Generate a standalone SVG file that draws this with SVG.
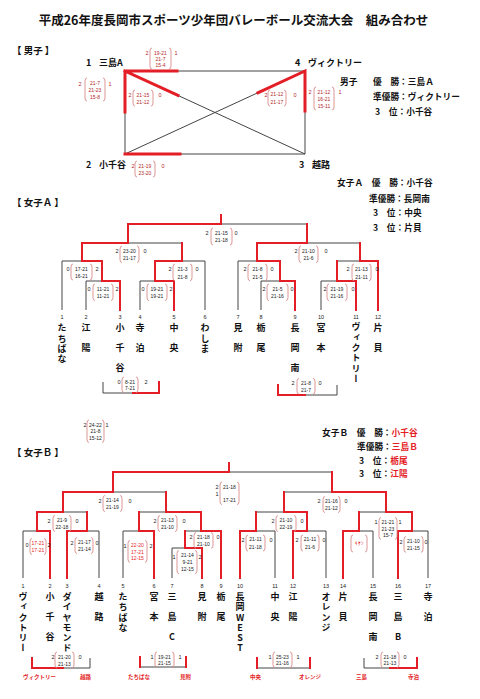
<svg xmlns="http://www.w3.org/2000/svg" width="480" height="699" viewBox="0 0 480 699">
<style>
.bg{fill:#fff}
.bk{stroke:#444;stroke-width:1;fill:none}
.rd{stroke:#e41e26;stroke-width:2;fill:none;stroke-linecap:square}
.rdm{stroke:#e41e26;stroke-width:3;fill:none;stroke-linecap:square}
.par{stroke:#d98a8a;stroke-width:0.9;fill:none}
.s{font-family:"Liberation Sans",Arial,sans-serif;font-size:5px;fill:#222;text-anchor:middle}
.sn{font-family:"Liberation Sans",Arial,sans-serif;font-size:5.5px;fill:#222;text-anchor:middle}
.mr .s,.mr .sn{fill:#b42828}
.rt .s{fill:#e41e26}
.jp{font-family:"Noto Sans CJK JP",sans-serif;font-weight:bold;fill:#111}
.t{font-size:12.5px}
.h{font-size:9.5px}
.nm{font-size:9px}
.res{font-size:8.7px}
.red{fill:#e41e26}
.num{font-family:"Liberation Sans",Arial,sans-serif;font-size:5.5px;fill:#222;text-anchor:middle}
.v{writing-mode:vertical-rl;text-orientation:upright;font-family:"Noto Sans CJK JP",sans-serif;font-weight:bold;font-size:9px;fill:#111}
.k{letter-spacing:11px}
.kn{letter-spacing:1.3px}
.cl{font-family:"Noto Sans CJK JP",sans-serif;font-weight:bold;font-size:5.5px;fill:#e41e26}
</style>
<rect class="bg" x="0" y="0" width="480" height="699"/>
<text class="jp t" x="233.5" y="25" text-anchor="middle">平成26年度長岡市スポーツ少年団バレーボール交流大会　組み合わせ</text>

<!-- section headers -->
<text class="jp h" x="12" y="54">【 男子 】</text>
<text class="jp h" x="12" y="206">【 女子Ａ 】</text>
<text class="jp h" x="12" y="456">【 女子Ｂ 】</text>

<!-- results -->
<g id="results-men">
<text class="jp res" x="340" y="85">男子</text>
<text class="jp res" x="373" y="85">優　勝：三島Ａ</text>
<text class="jp res" x="373" y="100">準優勝：ヴィクトリー</text>
<text class="jp res" x="375" y="115">3　位：小千谷</text>
</g>
<g id="results-women-a">
<text class="jp res" x="337" y="186">女子Ａ　優　勝：小千谷</text>
<text class="jp res" x="369" y="202">準優勝：長岡南</text>
<text class="jp res" x="373" y="216">3　位：中央</text>
<text class="jp res" x="373" y="231">3　位：片貝</text>
</g>
<g id="results-women-b">
<text class="jp res" x="322" y="436">女子Ｂ　優　勝：<tspan class="red">小千谷</tspan></text>
<text class="jp res" x="357" y="450">準優勝：<tspan class="red">三島Ｂ</tspan></text>
<text class="jp res" x="359" y="464">3　位：<tspan class="red">栃尾</tspan></text>
<text class="jp res" x="359" y="477">3　位：<tspan class="red">江陽</tspan></text>
</g>

<!-- connectors -->
<g id="connectors">
<!-- men round robin -->
<path class="bk" d="M125 71 H305 V154 H125 Z M125 71 L305 154 M305 71 L125 154"/>
<path class="rdm" d="M125 112 V71 H177 M125 71 L178 95.4 M125 154 H180 M305 111 V71 L258 92.7"/>
<!-- women A -->
<path class="bk" d="M221 215 V224 M128 224 H307 M128 224 V243 M82 243 H182 M82 243 V261 M62 261 H102 M62 261 V310 M102 261 V281 M86 281 H120 M86 281 V310 M120 281 V310 M182 243 V261 M155 261 H205 M155 261 V281 M140 281 H174 M140 281 V310 M174 281 V310 M205 261 V310 M307 224 V243 M257 243 H360 M257 243 V261 M238 261 H280 M238 261 V310 M280 261 V281 M261 281 H295 M261 281 V310 M295 281 V310 M360 243 V261 M337 261 H378 M337 261 V281 M321 281 H356 M321 281 V310 M356 281 V310 M378 261 V310"/>
<path class="rd" d="M221 215 V224 H128 V243 H82 V261 H102 V281 H120 V310 M174 310 V281 H155 V261 H182 V243 M295 310 V281 H280 V261 H257 V243 H307 V224 M356 310 V281 H337 V261 M378 310 V261 H360 V243"/>
<path class="bk" d="M103 382 V393 H159 V382 M278 385 V395 H337 V385"/>
<path class="rd" d="M159 382 V393 H133 M278 385 V395 H305"/>
<!-- women B -->
<path class="bk" d="M229 463 V472 M113 472 H332 M113 472 V492 M63 492 H166 M63 492 V512 M37 512 H87 M37 512 V531 M23 531 H50 M23 531 V578 M50 531 V578 M87 512 V531 M67 531 H99 M67 531 V578 M99 531 V578 M166 492 V512 M139 512 H201 M139 512 V531 M123 531 H154 M123 531 V578 M154 531 V578 M201 512 V531 M185 531 H221 M185 531 V548 M172 548 H202 M172 548 V578 M202 548 V578 M221 531 V578 M332 472 V492 M284 492 H386 M284 492 V512 M256 512 H307 M256 512 V531 M240 531 H275 M240 531 V578 M275 531 V578 M307 512 V531 M293 531 H326 M293 531 V578 M326 531 V578 M386 492 V512 M359 512 H412 M359 512 V531 M343 531 H373 M343 531 V578 M373 531 V578 M412 512 V531 M398 531 H428 M398 531 V578 M428 531 V578"/>
<path class="rd" d="M229 463 V472 H113 V492 H63 V512 H37 V531 H50 V578 M67 578 V531 H87 V512 M154 578 V531 H139 V512 M202 578 V548 H185 V531 M221 578 V531 H201 V512 H166 V492 M240 578 V531 H256 V512 M293 578 V531 H307 V512 H284 V492 M343 578 V531 H359 V512 M398 578 V531 H412 V512 H386 V492 H332 V472"/>
<path class="bk" d="M32 658 V668 H90 V658 M140 657 V667 H186 V657 M257 658 V668 H310 V658 M364 658 V668 H417 V658"/>
<path class="rd" d="M32 658 V668 H63 M140 657 V667 M186 657 V667 M257 658 V668 M310 658 V668 M417 658 V668 H390"/>
</g>

<!-- men teams -->
<g id="m-team1"><text class="jp nm" x="86" y="66">1</text><text class="jp nm" x="99" y="66">三島A</text></g>
<g id="m-team2"><text class="jp nm" x="86" y="168">2</text><text class="jp nm" x="99" y="168">小千谷</text></g>
<g id="m-team3"><text class="jp nm" x="299" y="168">3</text><text class="jp nm" x="312" y="168">越路</text></g>
<g id="m-team4"><text class="jp nm" x="295" y="66">4</text><text class="jp nm" x="308" y="66">ヴィクトリー</text></g>

<!-- men scores -->
<g id="score-m-1v4" class="mr"><text class="sn" x="147" y="55">2</text><path class="par" d="M152 48 Q150 48 150 51 V66 Q150 69 152 69 M169 48 Q171 48 171 51 V66 Q171 69 169 69"/><text class="s" x="160.5" y="54.8">19-21</text><text class="s" x="160.5" y="61.1">21-7</text><text class="s" x="160.5" y="67.4">15-4</text><text class="sn" x="176" y="55">1</text></g>
<g id="score-m-1v2" class="mr"><text class="sn" x="80" y="86">2</text><path class="par" d="M87 78 Q85 78 85 81 V98 Q85 101 87 101 M103 78 Q105 78 105 81 V98 Q105 101 103 101"/><text class="s" x="95" y="84.8">21-7</text><text class="s" x="95" y="91.8">21-23</text><text class="s" x="95" y="98.8">15-8</text><text class="sn" x="110" y="86">1</text></g>
<g id="score-m-1v3" class="mr"><text class="sn" x="130" y="97">2</text><path class="par" d="M135 90 Q133 90 133 93 V103 Q133 106 135 106 M151 90 Q153 90 153 93 V103 Q153 106 151 106"/><text class="s" x="143" y="96.8">21-15</text><text class="s" x="143" y="103.8">21-12</text><text class="sn" x="160" y="97">0</text></g>
<g id="score-m-2v3" class="mr"><text class="sn" x="133" y="168">2</text><path class="par" d="M137 161 Q135 161 135 164 V174 Q135 177 137 177 M153 161 Q155 161 155 164 V174 Q155 177 153 177"/><text class="s" x="145" y="167.8">21-19</text><text class="s" x="145" y="174.8">23-20</text><text class="sn" x="163" y="168">0</text></g>
<g id="score-m-2v4" class="mr"><text class="sn" x="266" y="97">2</text><path class="par" d="M270 90 Q268 90 268 93 V103 Q268 106 270 106 M284 90 Q286 90 286 93 V103 Q286 106 284 106"/><text class="s" x="277" y="96.3">21-12</text><text class="s" x="277" y="103.8">21-17</text><text class="sn" x="295" y="97">0</text></g>
<g id="score-m-3v4" class="mr"><text class="sn" x="310" y="94">2</text><path class="par" d="M316 87 Q314 87 314 90 V107 Q314 110 316 110 M332 87 Q334 87 334 90 V107 Q334 110 332 110"/><text class="s" x="324" y="93.8">21-12</text><text class="s" x="324" y="100.8">16-21</text><text class="s" x="324" y="107.8">15-11</text><text class="sn" x="340" y="94">1</text></g>

<!-- women A teams -->
<g id="a-team1"><text class="num" x="62" y="319">1</text><text class="v kn" x="62" y="323.5">たちばな</text></g>
<g id="a-team2"><text class="num" x="86" y="319">2</text><text class="v k" x="86" y="323.5">江陽</text></g>
<g id="a-team3"><text class="num" x="120" y="319">3</text><text class="v k" x="120" y="323.5">小千谷</text></g>
<g id="a-team4"><text class="num" x="140" y="319">4</text><text class="v k" x="140" y="323.5">寺泊</text></g>
<g id="a-team5"><text class="num" x="174" y="319">5</text><text class="v k" x="174" y="323.5">中央</text></g>
<g id="a-team6"><text class="num" x="205" y="319">6</text><text class="v kn" x="205" y="323.5">わしま</text></g>
<g id="a-team7"><text class="num" x="238" y="319">7</text><text class="v k" x="238" y="323.5">見附</text></g>
<g id="a-team8"><text class="num" x="261" y="319">8</text><text class="v k" x="261" y="323.5">栃尾</text></g>
<g id="a-team9"><text class="num" x="295" y="319">9</text><text class="v k" x="295" y="323.5">長岡南</text></g>
<g id="a-team10"><text class="num" x="321" y="319">10</text><text class="v k" x="321" y="323.5">宮本</text></g>
<g id="a-team11"><text class="num" x="356" y="319">11</text><text class="v kn" x="356" y="322.5">ヴィクトリー</text></g>
<g id="a-team12"><text class="num" x="378" y="319">12</text><text class="v k" x="378" y="323.5">片貝</text></g>

<!-- women A scores -->
<g id="score-a-final"><text class="sn" x="207" y="235">2</text><path class="par" d="M213 228 Q211 228 211 231 V242 Q211 245 213 245 M230 228 Q232 228 232 231 V242 Q232 245 230 245"/><text class="s" x="221.5" y="234.8">21-15</text><text class="s" x="221.5" y="242.3">21-18</text><text class="sn" x="236" y="235">0</text></g>
<g id="score-a-sl"><text class="sn" x="117" y="253">2</text><path class="par" d="M122 246 Q120 246 120 249 V259.5 Q120 262.5 122 262.5 M137 246 Q139 246 139 249 V259.5 Q139 262.5 137 262.5"/><text class="s" x="129.5" y="252.8">23-20</text><text class="s" x="129.5" y="260.1">21-17</text><text class="sn" x="145" y="253">0</text></g>
<g id="score-a-qll"><text class="sn" x="68" y="271">0</text><path class="par" d="M73 264 Q71 264 71 267 V277 Q71 280 73 280 M90 264 Q92 264 92 267 V277 Q92 280 90 280"/><text class="s" x="81.5" y="270.8">17-21</text><text class="s" x="81.5" y="278.3">16-21</text><text class="sn" x="97" y="271">2</text></g>
<g id="score-a-qlr"><text class="sn" x="170" y="271">2</text><path class="par" d="M175 264 Q173 264 173 267 V277.7 Q173 280.7 175 280.7 M190 264 Q192 264 192 267 V277.7 Q192 280.7 190 280.7"/><text class="s" x="182.5" y="270.8">21-3</text><text class="s" x="182.5" y="278.5">21-8</text><text class="sn" x="197" y="271">0</text></g>
<g id="score-a-2v3"><text class="sn" x="89" y="291">0</text><path class="par" d="M95 284 Q93 284 93 287 V297.5 Q93 300.5 95 300.5 M111 284 Q113 284 113 287 V297.5 Q113 300.5 111 300.5"/><text class="s" x="103" y="290.8">11-21</text><text class="s" x="103" y="298.3">11-21</text><text class="sn" x="117" y="291">2</text></g>
<g id="score-a-4v5"><text class="sn" x="143" y="291">0</text><path class="par" d="M149 284 Q147 284 147 287 V297.5 Q147 300.5 149 300.5 M165 284 Q167 284 167 287 V297.5 Q167 300.5 165 300.5"/><text class="s" x="157" y="290.8">19-21</text><text class="s" x="157" y="298.3">19-21</text><text class="sn" x="171" y="291">2</text></g>
<g id="score-a-sr"><text class="sn" x="296" y="253">2</text><path class="par" d="M301 246 Q299 246 299 249 V259.5 Q299 262.5 301 262.5 M316 246 Q318 246 318 249 V259.5 Q318 262.5 316 262.5"/><text class="s" x="308.5" y="252.8">21-10</text><text class="s" x="308.5" y="260.1">21-6</text><text class="sn" x="326" y="253">0</text></g>
<g id="score-a-qrl"><text class="sn" x="245" y="271">2</text><path class="par" d="M250 264 Q248 264 248 267 V277.7 Q248 280.7 250 280.7 M265 264 Q267 264 267 267 V277.7 Q267 280.7 265 280.7"/><text class="s" x="257.5" y="270.8">21-8</text><text class="s" x="257.5" y="278.5">21-5</text><text class="sn" x="272" y="271">0</text></g>
<g id="score-a-8v9"><text class="sn" x="264" y="291">2</text><path class="par" d="M269 284 Q267 284 267 287 V297.5 Q267 300.5 269 300.5 M286 284 Q288 284 288 287 V297.5 Q288 300.5 286 300.5"/><text class="s" x="277.5" y="290.8">21-5</text><text class="s" x="277.5" y="298.3">21-16</text><text class="sn" x="292" y="291">0</text></g>
<g id="score-a-qrr"><text class="sn" x="348" y="271">2</text><path class="par" d="M354 264 Q352 264 352 267 V277.7 Q352 280.7 354 280.7 M369 264 Q371 264 371 267 V277.7 Q371 280.7 369 280.7"/><text class="s" x="361.5" y="270.8">21-13</text><text class="s" x="361.5" y="278.5">21-11</text><text class="sn" x="377" y="271">0</text></g>
<g id="score-a-10v11"><text class="sn" x="325" y="291">2</text><path class="par" d="M329 284 Q327 284 327 287 V297.5 Q327 300.5 329 300.5 M345 284 Q347 284 347 287 V297.5 Q347 300.5 345 300.5"/><text class="s" x="337" y="290.8">21-19</text><text class="s" x="337" y="298.3">21-16</text><text class="sn" x="353" y="291">0</text></g>
<g id="score-a-3l"><text class="sn" x="119" y="384">0</text><path class="par" d="M124 377 Q122 377 122 380 V389.5 Q122 392.5 124 392.5 M136 377 Q138 377 138 380 V389.5 Q138 392.5 136 392.5"/><text class="s" x="130" y="383.5">8-21</text><text class="s" x="130" y="390.3">7-21</text><text class="sn" x="146" y="384">2</text></g>
<g id="score-a-3r"><text class="sn" x="293" y="385">2</text><path class="par" d="M299 378.5 Q297 378.5 297 381.5 V391 Q297 394 299 394 M313 378.5 Q315 378.5 315 381.5 V391 Q315 394 313 394"/><text class="s" x="306" y="385.1">21-8</text><text class="s" x="306" y="391.8">21-7</text><text class="sn" x="320" y="385">0</text></g>

<!-- women B teams -->
<g id="b-team1"><text class="num" x="23" y="588">1</text><text class="v kn" x="23" y="592">ヴィクトリー</text></g>
<g id="b-team2"><text class="num" x="50" y="588">2</text><text class="v k" x="50" y="592.5">小千谷</text></g>
<g id="b-team3"><text class="num" x="67" y="588">3</text><text class="v kn" x="67" y="592">ダイヤモンド</text></g>
<g id="b-team4"><text class="num" x="99" y="588">4</text><text class="v k" x="99" y="592.5">越路</text></g>
<g id="b-team5"><text class="num" x="123" y="588">5</text><text class="v kn" x="123" y="592">たちばな</text></g>
<g id="b-team6"><text class="num" x="154" y="588">6</text><text class="v k" x="154" y="592.5">宮本</text></g>
<g id="b-team7"><text class="num" x="172" y="588">7</text><text class="v k" x="172" y="592.5">三島C</text></g>
<g id="b-team8"><text class="num" x="202" y="588">8</text><text class="v k" x="202" y="592.5">見附</text></g>
<g id="b-team9"><text class="num" x="221" y="588">9</text><text class="v k" x="221" y="592.5">栃尾</text></g>
<g id="b-team10"><text class="num" x="240" y="588">10</text><text class="v kn" x="240" y="592">長岡WEST</text></g>
<g id="b-team11"><text class="num" x="275" y="588">11</text><text class="v k" x="275" y="592.5">中央</text></g>
<g id="b-team12"><text class="num" x="293" y="588">12</text><text class="v k" x="293" y="592.5">江陽</text></g>
<g id="b-team13"><text class="num" x="326" y="588">13</text><text class="v kn" x="326" y="592">オレンジ</text></g>
<g id="b-team14"><text class="num" x="343" y="588">14</text><text class="v k" x="343" y="592.5">片貝</text></g>
<g id="b-team15"><text class="num" x="373" y="588">15</text><text class="v k" x="373" y="592.5">長岡南</text></g>
<g id="b-team16"><text class="num" x="398" y="588">16</text><text class="v k" x="398" y="592.5">三島B</text></g>
<g id="b-team17"><text class="num" x="428" y="588">17</text><text class="v k" x="428" y="592.5">寺泊</text></g>

<!-- women B scores -->
<g id="score-b-extra"><text class="sn" x="85" y="427">2</text><path class="par" d="M89 420 Q87 420 87 423 V439.5 Q87 442.5 89 442.5 M102 420 Q104 420 104 423 V439.5 Q104 442.5 102 442.5"/><text class="s" x="95.5" y="426.8">24-22</text><text class="s" x="95.5" y="433.1">21-8</text><text class="s" x="95.5" y="439.8">15-12</text><text class="sn" x="107" y="427">1</text></g>
<g id="score-b-final"><text class="sn" x="217" y="489">2</text><text class="sn" x="217" y="496">1</text><path class="par" d="M222 482 Q220 482 220 485 V501.5 Q220 504.5 222 504.5 M237 482 Q239 482 239 485 V501.5 Q239 504.5 237 504.5"/><text class="s" x="229.5" y="488.8">21-18</text><text class="s" x="229.5" y="501.8">17-21</text></g>
<g id="score-b-sl"><text class="sn" x="100" y="503">2</text><path class="par" d="M105 495.5 Q103 495.5 103 498.5 V508.5 Q103 511.5 105 511.5 M120 495.5 Q122 495.5 122 498.5 V508.5 Q122 511.5 120 511.5"/><text class="s" x="112.5" y="501.8">21-14</text><text class="s" x="112.5" y="508.8">21-19</text><text class="sn" x="130" y="503">0</text></g>
<g id="score-b-sr"><text class="sn" x="319" y="503">2</text><path class="par" d="M325 496.5 Q323 496.5 323 499.5 V509.5 Q323 512.5 325 512.5 M338 496.5 Q340 496.5 340 499.5 V509.5 Q340 512.5 338 512.5"/><text class="s" x="331.5" y="502.8">21-16</text><text class="s" x="331.5" y="509.8">21-12</text><text class="sn" x="346" y="503">0</text></g>
<g id="score-b-qll"><text class="sn" x="49" y="523">2</text><path class="par" d="M55 515.5 Q53 515.5 53 518.5 V528.5 Q53 531.5 55 531.5 M69 515.5 Q71 515.5 71 518.5 V528.5 Q71 531.5 69 531.5"/><text class="s" x="62" y="521.8">21-9</text><text class="s" x="62" y="528.8">22-18</text><text class="sn" x="77" y="523">0</text></g>
<g id="score-b-qlr"><text class="sn" x="155" y="523">2</text><path class="par" d="M160 515.5 Q158 515.5 158 518.5 V528.5 Q158 531.5 160 531.5 M175 515.5 Q177 515.5 177 518.5 V528.5 Q177 531.5 175 531.5"/><text class="s" x="167.5" y="521.8">21-13</text><text class="s" x="167.5" y="528.8">21-10</text><text class="sn" x="184" y="523">0</text></g>
<g id="score-b-qrl"><text class="sn" x="273" y="523">2</text><path class="par" d="M278 515.5 Q276 515.5 276 518.5 V528.5 Q276 531.5 278 531.5 M294 515.5 Q296 515.5 296 518.5 V528.5 Q296 531.5 294 531.5"/><text class="s" x="286" y="521.8">21-10</text><text class="s" x="286" y="528.8">22-19</text><text class="sn" x="302" y="523">0</text></g>
<g id="score-b-qrr"><text class="sn" x="376" y="524">1</text><path class="par" d="M381 517.5 Q379 517.5 379 520.5 V536.3 Q379 539.3 381 539.3 M395 517.5 Q397 517.5 397 520.5 V536.3 Q397 539.3 395 539.3"/><text class="s" x="388" y="523.8">21-21</text><text class="s" x="388" y="530.5">21-23</text><text class="s" x="388" y="537.1">15-7</text><text class="sn" x="400" y="524">1</text></g>
<g id="score-b-1v2" class="rt"><text class="sn" x="27" y="547">0</text><path class="par" d="M32 538.5 Q30 538.5 30 541.5 V551.5 Q30 554.5 32 554.5 M44 538.5 Q46 538.5 46 541.5 V551.5 Q46 554.5 44 554.5"/><text class="s" x="38" y="544.8">17-21</text><text class="s" x="38" y="552.3">17-21</text><text class="sn" x="49" y="547">2</text></g>
<g id="score-b-3v4"><text class="sn" x="72" y="545">2</text><path class="par" d="M77 537.5 Q75 537.5 75 540.5 V550.5 Q75 553.5 77 553.5 M91 537.5 Q93 537.5 93 540.5 V550.5 Q93 553.5 91 553.5"/><text class="s" x="84.5" y="543.8">21-17</text><text class="s" x="84.5" y="551.3">21-14</text><text class="sn" x="97" y="545">0</text></g>
<g id="score-b-5v6" class="rt"><text class="sn" x="125" y="548">1</text><path class="par" d="M130 540.5 Q128 540.5 128 543.5 V559.3 Q128 562.3 130 562.3 M145 540.5 Q147 540.5 147 543.5 V559.3 Q147 562.3 145 562.3"/><text class="s" x="137.5" y="546.8">22-20</text><text class="s" x="137.5" y="553.5">17-21</text><text class="s" x="137.5" y="560.1">12-15</text><text class="sn" x="151" y="548">2</text></g>
<g id="score-b-7v8"><text class="sn" x="174" y="559">1</text><path class="par" d="M179 550.5 Q177 550.5 177 553.5 V570.6 Q177 573.6 179 573.6 M195 550.5 Q197 550.5 197 553.5 V570.6 Q197 573.6 195 573.6"/><text class="s" x="187.5" y="556.8">21-14</text><text class="s" x="187.5" y="564.1">9-21</text><text class="s" x="187.5" y="571.4">12-15</text><text class="sn" x="200" y="559">2</text></g>
<g id="score-b-78v9"><text class="sn" x="191" y="539">2</text><path class="par" d="M196 532.5 Q194 532.5 194 535.5 V545.3 Q194 548.3 196 548.3 M211 532.5 Q213 532.5 213 535.5 V545.3 Q213 548.3 211 548.3"/><text class="s" x="203.5" y="538.8">21-18</text><text class="s" x="203.5" y="546.1">21-10</text><text class="sn" x="218" y="539">0</text></g>
<g id="score-b-10v11"><text class="sn" x="243" y="542">2</text><path class="par" d="M248 535 Q246 535 246 538 V548 Q246 551 248 551 M263 535 Q265 535 265 538 V548 Q265 551 263 551"/><text class="s" x="255.5" y="541.3">21-11</text><text class="s" x="255.5" y="548.8">21-18</text><text class="sn" x="271" y="542">0</text></g>
<g id="score-b-12v13"><text class="sn" x="297" y="542">2</text><path class="par" d="M303 535 Q301 535 301 538 V548 Q301 551 303 551 M317 535 Q319 535 319 538 V548 Q319 551 317 551"/><text class="s" x="310" y="541.3">21-11</text><text class="s" x="310" y="548.8">21-6</text><text class="sn" x="324" y="542">0</text></g>
<g id="score-b-14v15" class="rt"><path class="par" d="M353 535 Q351 535 351 538 V549 Q351 552 353 552 M365 535 Q367 535 367 538 V549 Q367 552 365 552"/><text class="s" x="359" y="544.8">ｷｹﾝ</text></g>
<g id="score-b-16v17"><text class="sn" x="401" y="544">2</text><path class="par" d="M406 536.5 Q404 536.5 404 539.5 V549.3 Q404 552.3 406 552.3 M421 536.5 Q423 536.5 423 539.5 V549.3 Q423 552.3 421 552.3"/><text class="s" x="413.5" y="542.8">21-10</text><text class="s" x="413.5" y="550.1">21-15</text><text class="sn" x="426" y="544">0</text></g>
<g id="score-b-c1"><text class="sn" x="53" y="659">2</text><path class="par" d="M57 652 Q55 652 55 655 V665 Q55 668 57 668 M72 652 Q74 652 74 655 V665 Q74 668 72 668"/><text class="s" x="64.5" y="658.5">21-20</text><text class="s" x="64.5" y="665.8">21-13</text><text class="sn" x="80" y="659">0</text></g>
<g id="score-b-c2"><text class="sn" x="152" y="659">1</text><path class="par" d="M157 652 Q155 652 155 655 V664.5 Q155 667.5 157 667.5 M172 652 Q174 652 174 655 V664.5 Q174 667.5 172 667.5"/><text class="s" x="164.5" y="658.5">19-21</text><text class="s" x="164.5" y="665.1">21-15</text><text class="sn" x="180" y="659">1</text></g>
<g id="score-b-c3"><text class="sn" x="270" y="659">1</text><path class="par" d="M275 652 Q273 652 273 655 V664.5 Q273 667.5 275 667.5 M290 652 Q292 652 292 655 V664.5 Q292 667.5 290 667.5"/><text class="s" x="282.5" y="658.5">25-23</text><text class="s" x="282.5" y="665.1">21-16</text><text class="sn" x="298" y="659">1</text></g>
<g id="score-b-c4"><text class="sn" x="377" y="659">2</text><path class="par" d="M383 652 Q381 652 381 655 V664.5 Q381 667.5 383 667.5 M397 652 Q399 652 399 655 V664.5 Q399 667.5 397 667.5"/><text class="s" x="390" y="658.5">21-18</text><text class="s" x="390" y="665.1">21-13</text><text class="sn" x="405" y="659">0</text></g>

<!-- consolation labels -->
<g id="b-cons-labels">
<text class="cl" x="23" y="679">ヴィクトリー</text>
<text class="cl" x="80" y="679">越路</text>
<text class="cl" x="128" y="679">たちばな</text>
<text class="cl" x="180" y="679">見附</text>
<text class="cl" x="250" y="679">中央</text>
<text class="cl" x="299" y="679">オレンジ</text>
<text class="cl" x="356" y="679">三島</text>
<text class="cl" x="408" y="679">寺泊</text>
</g>
</svg>
